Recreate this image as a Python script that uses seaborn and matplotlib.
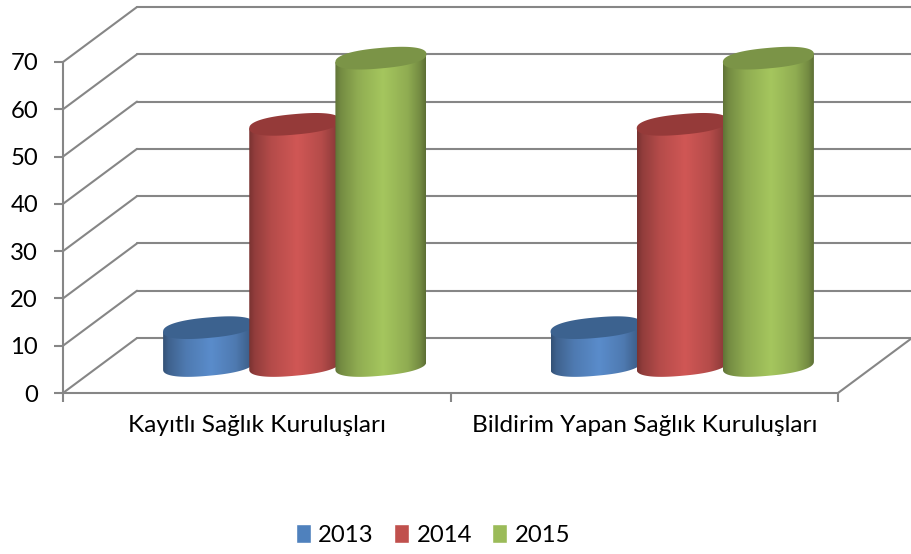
import numpy as np
import pandas as pd
import matplotlib
matplotlib.use("Agg")
import matplotlib.pyplot as plt
from matplotlib.colors import to_rgb
from matplotlib.patches import Polygon
from matplotlib.transforms import ScaledTranslation
import seaborn as sns

# values
kurumlar = ["Kayıtlı Sağlık Kuruluşları", "Bildirim Yapan Sağlık Kuruluşları"]
yillar = ["2013", "2014", "2015"]
degerler_2013 = [8, 8]
degerler_2014 = [51, 51]
degerler_2015 = [65, 65]
renkler = ["#4f81bd", "#c0504d", "#9bbb59"]
parlak = ["#5a8ccb", "#d05755", "#a5c65e"]
kapak = ["#3c628f", "#953a39", "#7b9447"]
yticks = [0, 10, 20, 30, 40, 50, 60, 70]

df = pd.DataFrame({
    "kurum": kurumlar * 3,
    "yil": [y for y in yillar for _ in kurumlar],
    "deger": degerler_2013 + degerler_2014 + degerler_2015,
})

sns.set_style("white")
plt.rcParams["font.family"] = ["Lato", "DejaVu Sans"]

W, H = 911, 554
GRI = "#868686"
FS = 17.2
LW = 1.5

fig = plt.figure(figsize=(W / 100, H / 100), dpi=100)
ax = fig.add_axes([63 / W, (H - 393) / H, (838 - 63) / W, (393 - 62) / H])

sns.barplot(data=df, x="kurum", y="deger", hue="yil", palette=renkler,
            width=0.667, gap=0, saturation=1, ax=ax)
ax.set_xlim(-0.5, 1.5)
ax.set_ylim(0, 70)

# px to data units
px_x = 2 / (838 - 63)
px_y = 70 / (393 - 62)

# depth offsets of the fake 3d box
back_tr = ax.transData + ScaledTranslation(74 / 100, 55 / 100, fig.dpi_scale_trans)
bar_tr = ax.transData + ScaledTranslation(38 / 100, 27.5 / 100, fig.dpi_scale_trans)

# back wall and diagonals
dx_d, dy_d = 74 * px_x, 55 * px_y
for v in yticks:
    ax.plot([-0.5, 1.5], [v, v], color=GRI, lw=LW, transform=back_tr, clip_on=False, zorder=1)
    ax.plot([-0.5, -0.5 + dx_d], [v, v + dy_d], color=GRI, lw=LW, clip_on=False, zorder=1)
ax.plot([1.5, 1.5 + dx_d], [0, dy_d], color=GRI, lw=LW, clip_on=False, zorder=1)


def spow(a, p=0.85):
    return np.sign(a) * np.abs(a) ** p


# cylinders on top of the seaborn bars
sx, k, m = 45.5, 4.0, 10.25
t = np.linspace(0, 2 * np.pi, 181)
ex = sx * spow(np.cos(t)) * px_x
ey = (k * spow(np.cos(t)) + m * spow(np.sin(t))) * px_y
stops = [0, 0.06, 0.25, 0.53, 0.8, 0.94, 1]
shade = [0.58, 0.70, 0.87, 1, 0.87, 0.70, 0.56]
for sira, cont in enumerate(ax.containers):
    z = 3 + sira
    for bar in cont:
        cx = bar.get_x() + bar.get_width() / 2
        h = bar.get_height()

        # lower half of the base ellipse, then up the two sides
        body = np.column_stack([
            np.r_[cx + ex[90:], cx + sx * px_x, cx - sx * px_x],
            np.r_[ey[90:], h + k * px_y, h - k * px_y],
        ])
        clip = Polygon(body, closed=True, transform=bar_tr)

        bar.set_transform(bar_tr)
        bar.set_zorder(z)
        bar.set_clip_box(fig.bbox)
        bar.set_clip_path(clip)

        f = np.interp(np.linspace(0, 1, 256), stops, shade)
        grad = f[None, :, None] * np.array(to_rgb(parlak[sira]))
        im = ax.imshow(grad, aspect="auto", interpolation="bilinear", zorder=z,
                       extent=[cx - sx * px_x, cx + sx * px_x, -15 * px_y, h + 15 * px_y],
                       transform=bar_tr)
        im.set_clip_box(fig.bbox)
        im.set_clip_path(clip)

        ax.add_patch(Polygon(np.column_stack([cx + ex, h + ey]), closed=True, transform=bar_tr,
                             facecolor=kapak[sira], edgecolor="none", zorder=z, clip_on=False))

ax.set_xlim(-0.5, 1.5)
ax.set_ylim(0, 70)

ax.set_xlabel("")
ax.set_ylabel("")
ax.set_yticks(yticks)
ax.set_xticks([-0.5, 0.5, 1.5], labels=["", "", ""])
ax.set_xticks([0, 1], labels=kurumlar, minor=True)
ax.tick_params(axis="x", which="major", length=6.5, width=LW, color=GRI, bottom=True)
ax.tick_params(axis="x", which="minor", length=0, pad=16, labelsize=17.6, labelcolor="#000000", bottom=True)
ax.tick_params(axis="y", length=6.5, width=LW, color=GRI, pad=11.5, labelsize=FS, labelcolor="#000000", left=True)
sns.despine(ax=ax)
for s in ["left", "bottom"]:
    ax.spines[s].set_color(GRI)
    ax.spines[s].set_linewidth(LW)
ax.patch.set_alpha(0)

sns.move_legend(ax, "lower center", bbox_to_anchor=(433 / W, -5 / H), bbox_transform=fig.transFigure,
                ncols=3, frameon=False, title=None, fontsize=FS, handlelength=0.63, handleheight=0.8,
                handletextpad=0.3, columnspacing=0.85, borderaxespad=0.15)
for txt in ax.get_legend().get_texts():
    txt.set_color("#000000")

fig.savefig("out.png", dpi=100)
